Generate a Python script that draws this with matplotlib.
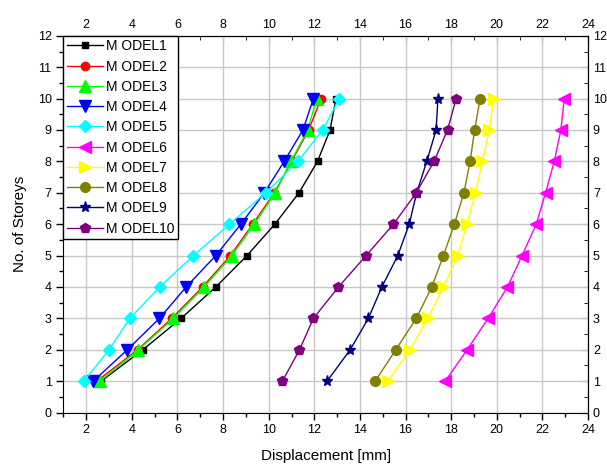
import numpy as np
import matplotlib
matplotlib.use("Agg")
import matplotlib.pyplot as plt

plt.rcParams['font.family'] = ['Liberation Sans', 'DejaVu Sans']

storeys = [1, 2, 3, 4, 5, 6, 7, 8, 9, 10]

model1 = [2.65, 4.48, 6.16, 7.68, 9.05, 10.27, 11.33, 12.14, 12.69, 12.95]
model2 = [2.46, 4.25, 5.75, 7.10, 8.32, 9.30, 10.25, 11.00, 11.75, 12.30]
model3 = [2.60, 4.29, 5.82, 7.17, 8.38, 9.37, 10.29, 10.97, 11.71, 12.11]
model4 = [2.31, 3.80, 5.21, 6.38, 7.68, 8.78, 9.81, 10.68, 11.50, 11.96]
model5 = [1.89, 3.00, 3.91, 5.22, 6.70, 8.28, 9.87, 11.28, 12.37, 13.10]
model6 = [17.74, 18.70, 19.62, 20.47, 21.11, 21.73, 22.14, 22.52, 22.81, 22.96]
model7 = [15.22, 16.20, 16.98, 17.66, 18.29, 18.69, 19.07, 19.37, 19.68, 19.86]
model8 = [14.67, 15.57, 16.47, 17.15, 17.66, 18.14, 18.56, 18.83, 19.03, 19.27]
model9 = [12.56, 13.57, 14.37, 14.96, 15.66, 16.16, 16.49, 16.93, 17.34, 17.42]
model10 = [10.60, 11.35, 11.96, 13.06, 14.27, 15.47, 16.47, 17.25, 17.84, 18.22]

labels = ["M ODEL1", "M ODEL2", "M ODEL3", "M ODEL4", "M ODEL5",
          "M ODEL6", "M ODEL7", "M ODEL8", "M ODEL9", "M ODEL10"]

series = [model1, model2, model3, model4, model5,
          model6, model7, model8, model9, model10]
colors = ['#000000', '#ff0000', '#00ff00', '#0000ff', '#00ffff',
          '#ff00ff', '#ffff00', '#808000', '#000080', '#800080']
markers = ['s', 'o', '^', 'v', 'D', '<', '>', 'o', '*', 'p']
sizes = [5, 6, 8, 8, 6, 8, 8, 7, 8, 7]

fig = plt.figure(figsize=(6.07, 4.68), dpi=100)
ax = fig.add_axes([0.1045, 0.1184, 0.8642, 0.8051])

for vals, lab, c, m, s in zip(series, labels, colors, markers, sizes):
    ax.plot(vals, storeys, color=c, marker=m, markersize=s, linewidth=1,
            markeredgecolor=c, label=lab)

ax.set_xlim(1, 24)
ax.set_ylim(0, 12)
ax.set_xticks(np.arange(2, 25, 2))
ax.set_xticks(np.arange(1, 25, 1), minor=True)
ax.set_yticks(np.arange(0, 13, 1))
ax.set_yticks(np.arange(0, 12.01, 0.5), minor=True)
ax.grid(True, which='major', color='#c8c8c8', linewidth=1)
ax.set_axisbelow(True)

ax.tick_params(which='major', direction='out', length=5, width=1, labelsize=9)
ax.tick_params(which='minor', direction='out', length=3, width=1)

# top and right axes carry the same scale, ticks pointing inward
top = ax.secondary_xaxis('top')
top.set_xticks(np.arange(2, 25, 2))
top.set_xticks(np.arange(1, 25, 1), minor=True)
top.tick_params(which='major', direction='in', length=5, labelsize=9)
top.tick_params(which='minor', direction='in', length=3)

right = ax.secondary_yaxis('right')
right.set_yticks(np.arange(0, 13, 1))
right.set_yticks(np.arange(0, 12.01, 0.5), minor=True)
right.tick_params(which='major', direction='in', length=5, labelsize=9)
right.tick_params(which='minor', direction='in', length=3)

ax.set_xlabel('Displacement [mm]', fontsize=11, labelpad=9)
ax.set_ylabel('No. of Storeys', fontsize=11, labelpad=8)

leg = ax.legend(loc='upper left', fontsize=10, frameon=True, fancybox=False,
                edgecolor='black', framealpha=1, borderaxespad=0,
                handlelength=2.6, handletextpad=0.2, labelspacing=0.45,
                borderpad=0.25)
leg.get_frame().set_linewidth(1)

fig.savefig('out.png', dpi=100)
